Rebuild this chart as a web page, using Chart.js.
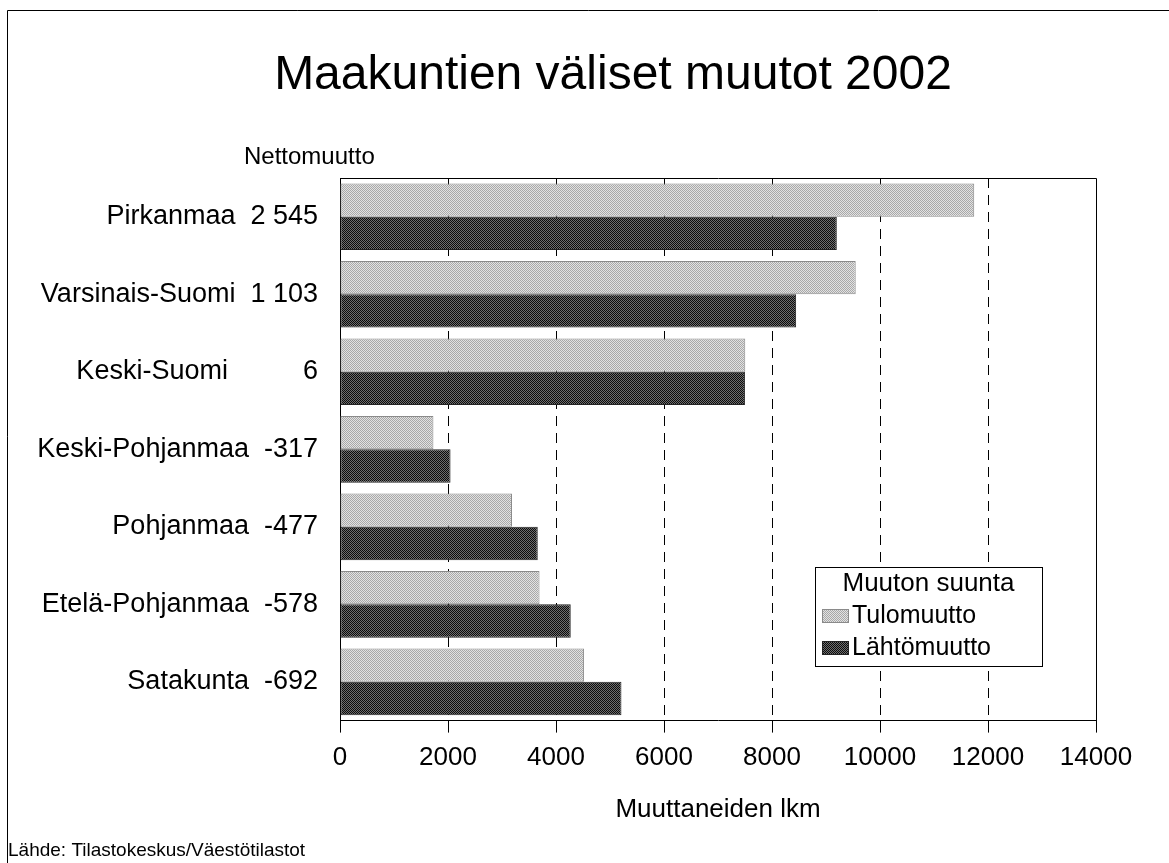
<!DOCTYPE html>
<html>
<head>
<meta charset="utf-8">
<script src="https://cdn.jsdelivr.net/npm/chart.js@4/dist/chart.umd.min.js"></script>
<style>
html,body{margin:0;padding:0;background:#fff;}
#wrap{position:relative;width:1169px;height:863px;}
</style>
</head>
<body>
<div id="wrap"><canvas id="c" width="1169" height="863"></canvas></div>
<script>
const regions = ['Pirkanmaa','Varsinais-Suomi','Keski-Suomi','Keski-Pohjanmaa','Pohjanmaa','Etelä-Pohjanmaa','Satakunta'];
const netLabels = ['2 545','1 103','6','-317','-477','-578','-692'];
const tulomuutto = [11745, 9550, 7505, 1730, 3185, 3695, 4520];
const lahtomuutto = [9200, 8447, 7499, 2047, 3662, 4273, 5212];
const xTicks = [0,2000,4000,6000,8000,10000,12000,14000];

const FONT = '"Liberation Sans", Arial, sans-serif';

function makePattern(c1, c2) {
  const p = document.createElement('canvas');
  p.width = 4; p.height = 4;
  const g = p.getContext('2d');
  for (let y = 0; y < 4; y++) for (let x = 0; x < 4; x++) {
    g.fillStyle = ((x + y) % 2 === 0) ? c1 : c2;
    g.fillRect(x, y, 1, 1);
  }
  return g.createPattern(p, 'repeat');
}
const patLight = makePattern('#a8a8a8', '#e2e2e2');
const patDark = makePattern('#0c0c0c', '#6e6e6e');

// net numbers sit in a right-aligned column; short ones padded with figure spaces
const yLabels = regions.map((r, i) => {
  const n = netLabels[i];
  return r + '  ' + (n.length < 3 ? n.padStart(5, '\u2007') : n);
});

const extras = {
  id: 'extras',
  beforeDraw(chart) {
    const c = chart.ctx;
    c.save();
    c.fillStyle = '#fff';
    c.fillRect(0, 0, chart.width, chart.height);
    c.restore();
  },
  afterDraw(chart) {
    const c = chart.ctx;
    const a = chart.chartArea;
    c.save();
    c.strokeStyle = '#000';
    c.lineWidth = 1;
    c.beginPath();
    c.moveTo(7.5, 863); c.lineTo(7.5, 10.5); c.lineTo(1169, 10.5);
    c.stroke();
    c.beginPath();
    c.moveTo(Math.round(a.left) + 0.5, Math.round(a.top) + 0.5);
    c.lineTo(Math.round(a.right) + 0.5, Math.round(a.top) + 0.5);
    c.lineTo(Math.round(a.right) + 0.5, Math.round(a.bottom) + 0.5);
    c.stroke();
    c.fillStyle = '#000';
    c.textBaseline = 'middle';
    // title
    c.font = '48px ' + FONT;
    c.textAlign = 'center';
    c.fillText('Maakuntien väliset muutot 2002', 613, 76);
    // Nettomuutto header
    c.font = '24px ' + FONT;
    c.textAlign = 'left';
    c.fillText('Nettomuutto', 244, 157);
    // source
    c.font = '19px ' + FONT;
    c.fillText('Lähde: Tilastokeskus/Väestötilastot', 8, 851);
    // legend
    const lx = 815, ly = 567, lw = 227, lh = 99;
    c.fillStyle = '#fff';
    c.fillRect(lx, ly, lw, lh);
    c.strokeStyle = '#000';
    c.strokeRect(lx + 0.5, ly + 0.5, lw, lh);
    c.fillStyle = '#000';
    c.font = '26px ' + FONT;
    c.textAlign = 'center';
    c.fillText('Muuton suunta', lx + lw / 2, ly + 17);
    c.textAlign = 'left';
    c.font = '25px ' + FONT;
    const ds = chart.data.datasets;
    const rows = [ly + 49, ly + 81];
    ds.forEach((d, i) => {
      c.fillStyle = d.backgroundColor;
      c.fillRect(lx + 7, rows[i] - 7, 27, 14);
      c.strokeStyle = d.borderColor;
      c.strokeRect(lx + 7.5, rows[i] - 6.5, 26, 13);
      c.fillStyle = '#000';
      c.fillText(d.label, lx + 37, rows[i]);
    });
    c.restore();
  }
};

new Chart(document.getElementById('c'), {
  type: 'bar',
  data: {
    labels: yLabels,
    datasets: [
      { label: 'Tulomuutto', data: tulomuutto, backgroundColor: patLight, borderColor: '#8a8a8a', borderWidth: 1, borderSkipped: false },
      { label: 'Lähtömuutto', data: lahtomuutto, backgroundColor: patDark, borderColor: '#222', borderWidth: 1, borderSkipped: false }
    ]
  },
  options: {
    indexAxis: 'y',
    responsive: false,
    animation: false,
    devicePixelRatio: 1,
    layout: { padding: { left: 0, right: 73, top: 178, bottom: 38 } },
    datasets: { bar: { categoryPercentage: 0.86, barPercentage: 1.0 } },
    plugins: {
      legend: { display: false },
      tooltip: { enabled: false },
      title: { display: false }
    },
    scales: {
      x: {
        min: 0, max: 14000,
        afterBuildTicks(scale) { scale.ticks = xTicks.map(v => ({ value: v })); },
        grid: {
          color: (ctx) => (ctx.tick && (ctx.tick.value === 0 || ctx.tick.value === 14000)) ? 'rgba(0,0,0,0)' : '#000',
          tickColor: '#000',
          tickLength: 12,
          lineWidth: 1
        },
        border: { display: true, color: '#000', width: 1, dash: [10, 7] },
        ticks: {
          color: '#000',
          padding: 10,
          maxRotation: 0,
          autoSkip: false,
          font: { family: FONT, size: 26 },
          callback: (v) => String(v)
        },
        title: {
          display: true,
          text: 'Muuttaneiden lkm',
          color: '#000',
          font: { family: FONT, size: 26 },
          padding: { top: 10, bottom: 0 }
        }
      },
      y: {
        afterFit(scale) { scale.width = 340; },
        grid: { display: false, drawTicks: false },
        border: { display: true, color: '#000', width: 1 },
        ticks: {
          color: '#000',
          padding: 22,
          autoSkip: false,
          font: { family: FONT, size: 27 }
        }
      }
    }
  },
  plugins: [extras]
});
</script>
</body>
</html>
